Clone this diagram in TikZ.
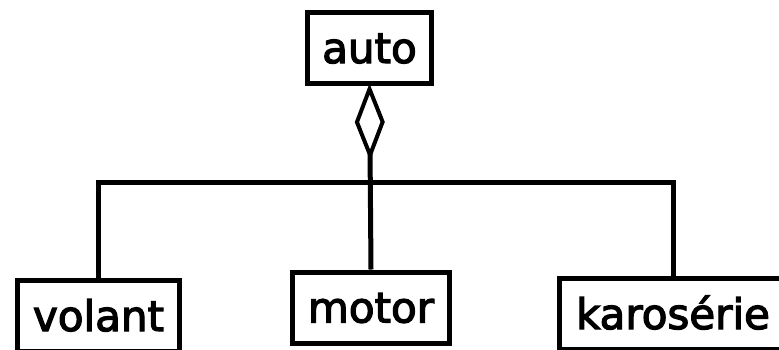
\documentclass[tikz,border=0pt]{standalone}
\usepackage{fontspec}
\setmainfont[FakeBold=3]{DejaVu Sans}
\usetikzlibrary{arrows.meta}
\begin{document}
\begin{tikzpicture}[x=1pt,y=-1pt,
  cls/.style={draw, line width=5pt, rectangle, minimum height=71pt,
    text height=30pt, text depth=0pt, inner sep=0pt,
    font=\fontsize{42}{44}\selectfont},
  link/.style={line width=5pt}]
\useasboundingbox (0,0) rectangle (779,349);
\clip (0,0) rectangle (779,349);
% classes
\node[cls, minimum width=124pt] (auto) at (369.5,48) {auto};
\node[cls, minimum width=162pt] (volant) at (98.5,316) {volant};
\node[cls, minimum width=157pt] (motor) at (371,307.5) {motor};
\node[cls, minimum width=227pt] (karo) at (673,314) {karosérie};
% aggregation: diamond at the whole, one bar to all parts
\coordinate (bar) at (370,182);
\draw[link, {Diamond[open,length=77pt,width=30pt,line width=4pt]}-, shorten <=-2.5pt] (auto.south) -- (motor.north);
\draw[link] (volant.north) |- (bar) -| (karo.north);
\end{tikzpicture}
\end{document}
